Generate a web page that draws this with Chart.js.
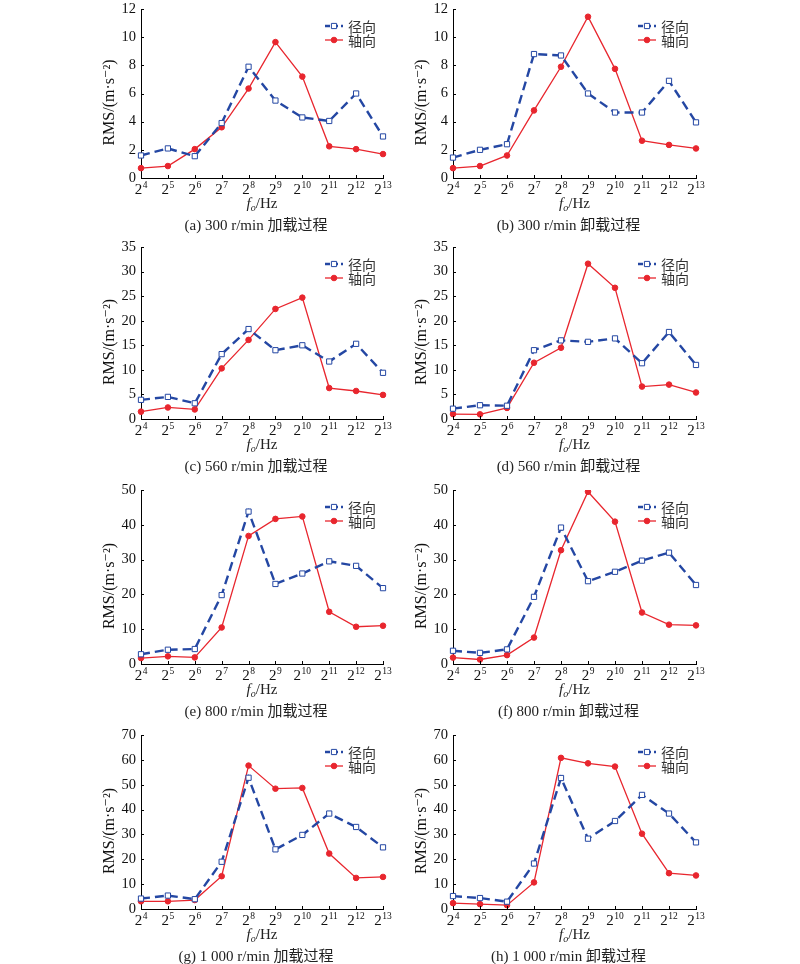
<!DOCTYPE html>
<html>
<head>
<meta charset="utf-8">
<script src="https://cdn.jsdelivr.net/npm/chart.js@4.4.1/dist/chart.umd.min.js"></script>
<style>
	body { margin: 0; background: #fff; width: 800px; height: 964px; position: relative; overflow: hidden;
	       font-family: "Liberation Serif", "Noto Sans CJK SC", serif; color: #222; }
	canvas { position: absolute; }
	.lab { position: absolute; font-size: 15px; line-height: 1; white-space: nowrap; transform: translate(-50%, -50%); }
	.lab sub { font-size: 10px; vertical-align: -3px; }
</style>
</head>
<body>
<script>
/* x axis: octave band centre frequencies 2^4 .. 2^13 Hz */
const freqBase = 2;
const freqExponents = [4, 5, 6, 7, 8, 9, 10, 11, 12, 13];
const seriesNames = ['径向', '轴向'];
const yTitle = 'RMS/(m\u00b7s\u207b\u00b2)';

/* RMS values, one pair per panel */
const radialA = [1.6, 2.1, 1.55, 3.9, 7.9, 5.5, 4.3, 4.05, 6.0, 2.95];
const axialA  = [0.7, 0.85, 2.05, 3.6, 6.35, 9.65, 7.2, 2.25, 2.05, 1.7];
const radialB = [1.45, 2.0, 2.4, 8.8, 8.7, 6.0, 4.65, 4.65, 6.9, 3.95];
const axialB  = [0.7, 0.85, 1.6, 4.8, 7.9, 11.45, 7.75, 2.65, 2.35, 2.1];
const radialC = [3.9, 4.5, 3.2, 13.2, 18.3, 14.0, 15.0, 11.7, 15.3, 9.4];
const axialC  = [1.5, 2.35, 1.95, 10.3, 16.1, 22.4, 24.7, 6.3, 5.7, 4.9];
const radialD = [2.1, 2.8, 2.7, 14.0, 16.0, 15.7, 16.4, 11.35, 17.7, 11.0];
const axialD  = [1.0, 0.95, 2.25, 11.45, 14.5, 31.6, 26.7, 6.6, 7.0, 5.4];
const radialE = [2.8, 4.1, 4.3, 19.8, 43.8, 23.0, 26.0, 29.5, 28.2, 21.8];
const axialE  = [1.7, 2.2, 1.9, 10.5, 36.8, 41.7, 42.4, 15.0, 10.7, 11.0];
const radialF = [3.8, 3.2, 4.2, 19.3, 39.2, 23.8, 26.5, 29.7, 32.0, 22.7];
const axialF  = [1.85, 1.3, 2.55, 7.6, 32.7, 49.5, 40.9, 14.8, 11.3, 11.1];
const radialG = [4.2, 5.4, 3.95, 19.0, 52.8, 24.0, 29.8, 38.4, 33.0, 24.8];
const axialG  = [3.1, 3.1, 3.6, 13.2, 57.7, 48.4, 48.7, 22.3, 12.5, 12.9];
const radialH = [5.2, 4.4, 2.95, 18.3, 52.7, 28.3, 35.4, 45.9, 38.4, 26.8];
const axialH  = [2.35, 1.95, 1.55, 10.7, 60.8, 58.6, 57.3, 30.3, 14.4, 13.5];

const radialSets = [radialA, radialB, radialC, radialD, radialE, radialF, radialG, radialH];
const axialSets  = [axialA, axialB, axialC, axialD, axialE, axialF, axialG, axialH];
const yMax  = [12, 12, 35, 35, 50, 50, 70, 70];
const yStep = [2, 2, 5, 5, 10, 10, 10, 10];
const captions = ['(a) 300 r/min 加载过程', '(b) 300 r/min 卸载过程',
                  '(c) 560 r/min 加载过程', '(d) 560 r/min 卸载过程',
                  '(e) 800 r/min 加载过程', '(f) 800 r/min 卸载过程',
                  '(g) 1 000 r/min 加载过程', '(h) 1 000 r/min 卸载过程'];

/* page geometry of the plot areas */
const colLeft = [141, 453];
const colWidth = [242, 243];
const rowTop = [9, 247, 490, 735];
const rowHeight = [169, 172, 174, 174];
const PAD_TOP = 16;

const BLUE = '#2447a3';
const RED = '#e8262e';
const SERIF = '"Liberation Serif", "DejaVu Serif", serif';

/* legend drawn in the upper right corner of the plot area */
const cornerLegend = {
	id: 'cornerLegend',
	afterDatasetsDraw(chart) {
		const ctx = chart.ctx;
		const area = chart.chartArea;
		ctx.save();
		chart.data.datasets.forEach(function (ds, i) {
			const y = area.top + 17 + i * 14;
			const x0 = area.right - 58;
			const x1 = area.right - 40;
			const xm = (x0 + x1) / 2;
			ctx.strokeStyle = ds.borderColor;
			ctx.lineWidth = ds.borderWidth;
			ctx.setLineDash(ds.borderDash ? [5, 3] : []);
			ctx.beginPath();
			ctx.moveTo(x0, y);
			ctx.lineTo(x1, y);
			ctx.stroke();
			ctx.setLineDash([]);
			ctx.lineWidth = 1;
			ctx.fillStyle = ds.pointBackgroundColor;
			ctx.beginPath();
			if (ds.pointStyle === 'rect') {
				ctx.rect(xm - 2.6, y - 2.6, 5.2, 5.2);
			} else {
				ctx.arc(xm, y, ds.pointRadius, 0, Math.PI * 2);
			}
			ctx.fill();
			ctx.stroke();
			ctx.fillStyle = '#333';
			ctx.font = '14px "Noto Sans CJK SC", sans-serif';
			ctx.textBaseline = 'middle';
			ctx.fillText(ds.label, area.right - 35, y + 1);
		});
		ctx.restore();
	}
};

/* inward tick marks, the 2^n labels under the x axis and the y title */
const axisDecor = {
	id: 'axisDecor',
	afterDraw(chart) {
		const ctx = chart.ctx;
		const xs = chart.scales.x;
		const ys = chart.scales.y;
		const area = chart.chartArea;
		ctx.save();
		ctx.strokeStyle = '#000';
		ctx.lineWidth = 1;
		ctx.beginPath();
		ys.ticks.forEach(function (t) {
			const y = Math.round(ys.getPixelForValue(t.value)) + 0.5;
			ctx.moveTo(area.left, y);
			ctx.lineTo(area.left + 3, y);
		});
		xs.ticks.forEach(function (t, i) {
			const x = Math.round(xs.getPixelForTick(i)) + 0.5;
			ctx.moveTo(x, area.bottom);
			ctx.lineTo(x, area.bottom - 3);
		});
		ctx.stroke();

		ctx.fillStyle = '#111';
		ctx.textBaseline = 'alphabetic';
		ctx.textAlign = 'left';
		xs.ticks.forEach(function (t, i) {
			const x = xs.getPixelForTick(i);
			const base = String(freqBase);
			const sup = String(freqExponents[i]);
			ctx.font = '15px ' + SERIF;
			const bw = ctx.measureText(base).width;
			ctx.font = '9.5px ' + SERIF;
			const sw = ctx.measureText(sup).width;
			const x0 = x - (bw + sw + 0.5) / 2;
			ctx.font = '15px ' + SERIF;
			ctx.fillText(base, x0, area.bottom + 16);
			ctx.font = '9.5px ' + SERIF;
			ctx.fillText(sup, x0 + bw + 0.5, area.bottom + 10);
		});

		/* y title, sitting a little below the middle of the axis as in the figure */
		ctx.translate(area.left - 31, (area.top + area.bottom) / 2 + 9);
		ctx.rotate(-Math.PI / 2);
		ctx.font = '16px ' + SERIF;
		ctx.textAlign = 'center';
		ctx.textBaseline = 'middle';
		ctx.fillText(ys.options.title.text, 0, 0);
		ctx.restore();
	}
};

/**
 * Places one panel: canvas with the chart plus the axis label and caption.
 *
 * @param i Index of the panel, 0..7 (row major).
 */
function drawPanel(i) {
	const col = i % 2;
	const row = Math.floor(i / 2);
	const left = colLeft[col], top = rowTop[row];
	const w = colWidth[col], h = rowHeight[row];

	const cv = document.createElement('canvas');
	cv.width = w + 40 + 16;
	cv.height = h + PAD_TOP + 24;
	cv.style.left = (left - 40) + 'px';
	cv.style.top = (top - PAD_TOP) + 'px';
	document.body.appendChild(cv);

	new Chart(cv.getContext('2d'), {
		type: 'line',
		data: {
			labels: freqExponents.map(function (e) { return freqBase + '^' + e; }),
			datasets: [
				{
				label: seriesNames[0],
				data: radialSets[i],
				borderColor: BLUE,
				borderWidth: 2.4,
				borderDash: [9, 5],
				pointStyle: 'rect',
				pointRadius: 3.7,
				pointBorderWidth: 1,
				pointBorderColor: BLUE,
				pointBackgroundColor: '#fff',
				tension: 0},
				{
				label: seriesNames[1],
				data: axialSets[i],
				borderColor: RED,
				borderWidth: 1.3,
				pointStyle: 'circle',
				pointRadius: 2.8,
				pointBorderWidth: 1,
				pointBorderColor: RED,
				pointBackgroundColor: RED,
				tension: 0}
			]
		},
		options: {
			responsive: false,
			animation: false,
			layout: { padding: { left: 0, right: 16, top: PAD_TOP, bottom: 0 } },
			plugins: { legend: { display: false }, tooltip: { enabled: false } },
			scales: {
				x: {
					offset: false,
					grid: { display: false, drawTicks: false },
					border: { display: true, color: '#000', width: 1 },
					ticks: { display: false, autoSkip: false, maxRotation: 0 },
					afterFit: function (s) { s.height = 24; }
				},
				y: {
					min: 0,
					max: yMax[i],
					grid: { display: false, drawTicks: false },
					border: { display: true, color: '#000', width: 1 },
					ticks: { stepSize: yStep[i], color: '#111', padding: 5,
					         font: { family: SERIF, size: 14.5 } },
					title: { display: false, text: yTitle },
					afterFit: function (s) { s.width = 40; }
				}
			}
		},
		plugins: [cornerLegend, axisDecor]
	});

	/* x axis label and panel caption as html text */
	const xl = document.createElement('div');
	xl.className = 'lab';
	xl.innerHTML = '<i>f</i><sub><i>o</i></sub>/Hz';
	xl.style.left = (left + w / 2) + 'px';
	xl.style.top = (top + h + 26) + 'px';
	document.body.appendChild(xl);

	const cp = document.createElement('div');
	cp.className = 'lab';
	cp.textContent = captions[i];
	cp.style.left = (left + w / 2 - 6) + 'px';
	cp.style.top = (top + h + 47) + 'px';
	document.body.appendChild(cp);
}

for (let i = 0; i < 8; i++) {
	drawPanel(i);
}
</script>
</body>
</html>
